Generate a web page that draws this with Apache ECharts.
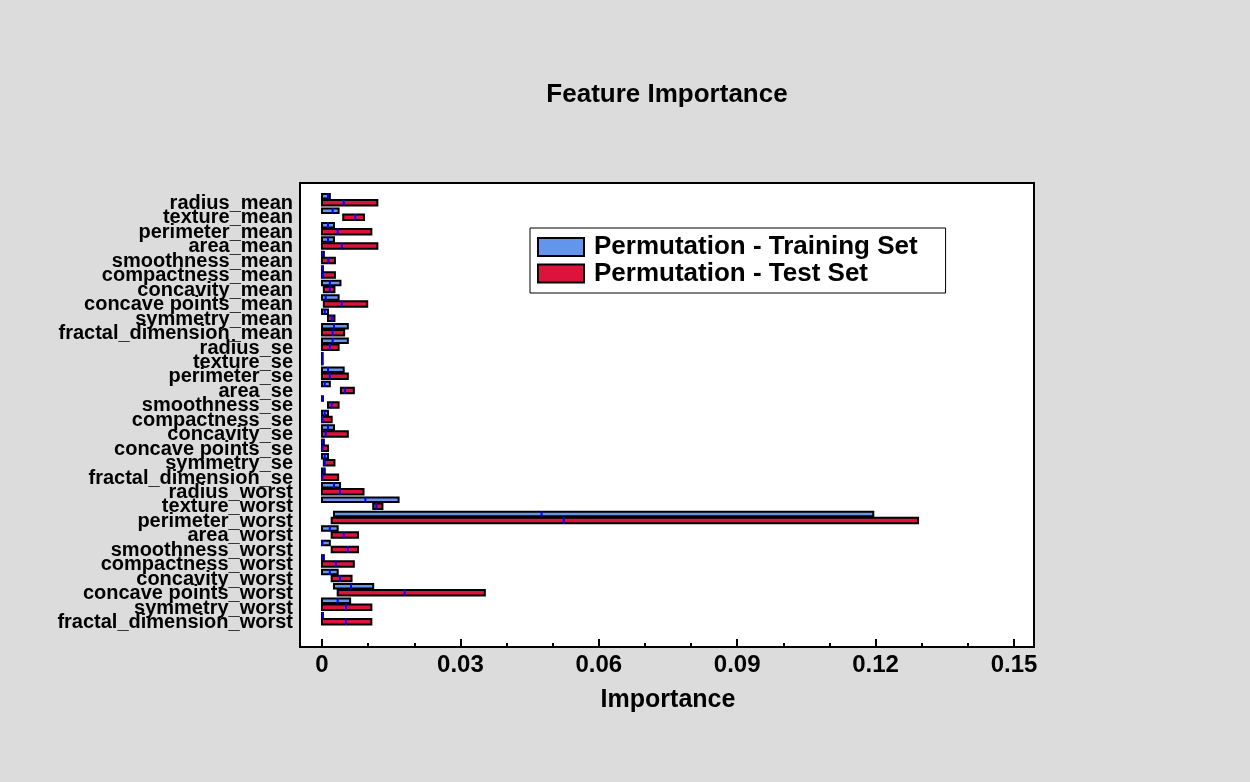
<!DOCTYPE html>
<html><head><meta charset="utf-8">
<script src="https://cdn.jsdelivr.net/npm/echarts@6/dist/echarts.min.js"></script>
<style>html,body{margin:0;padding:0;background:#dcdcdc}#c{width:1250px;height:782px}</style>
</head><body><div id="c"></div>
<script>
const categories = ["radius_mean","texture_mean","perimeter_mean","area_mean","smoothness_mean","compactness_mean","concavity_mean","concave points_mean","symmetry_mean","fractal_dimension_mean","radius_se","texture_se","perimeter_se","area_se","smoothness_se","compactness_se","concavity_se","concave points_se","symmetry_se","fractal_dimension_se","radius_worst","texture_worst","perimeter_worst","area_worst","smoothness_worst","compactness_worst","concavity_worst","concave points_worst","symmetry_worst","fractal_dimension_worst"];
const trainLow  = [0,0,0,0,0,0,0,0,0,0,0,0,0,0,0,0,0,0,0,0,0,0,0.0026,0,0,0,0,0.0026,0,0];
const trainHigh = [0.0017,0.0036,0.0026,0.0026,0.0004,0.0002,0.0040,0.0036,0.0013,0.0056,0.0056,0.0001,0.0047,0.0017,0.0002,0.0013,0.0026,0.0004,0.0013,0.0006,0.0039,0.0166,0.1195,0.0034,0.0017,0.0004,0.0034,0.0111,0.0061,0.0002];
const trainMid  = [0.0013,0.0023,0.0013,0.0013,0.0001,0.0001,0.0017,0.0008,0.0006,0.0026,0.0023,0.0001,0.0013,0.0006,0.0001,0.0006,0.0013,0.0001,0.0006,0.0004,0.0026,0.0094,0.0476,0.0017,0.0001,0.0001,0.0017,0.0063,0.0034,0.0001];
const testLow   = [0,0.0046,0,0,0,0,0.0004,0.0004,0.0013,0,0,0,0,0.0041,0.0013,0,0,0,0.0004,0,0,0.0111,0.0021,0.0021,0.0021,0,0.0021,0.0034,0,0];
const testHigh  = [0.0120,0.0091,0.0107,0.0120,0.0028,0.0028,0.0027,0.0098,0.0027,0.0048,0.0036,0.0001,0.0056,0.0069,0.0036,0.0021,0.0056,0.0013,0.0027,0.0035,0.0090,0.0131,0.1292,0.0078,0.0078,0.0069,0.0064,0.0353,0.0107,0.0107];
const testMid   = [0.0047,0.0072,0.0034,0.0043,0.0014,0.0002,0.0017,0.0043,0.0021,0.0023,0.0017,0.0001,0.0017,0.0050,0.0021,0.0001,0.0008,0.0001,0.0006,0.0001,0.0039,0.0118,0.0524,0.0047,0.0056,0.0030,0.0039,0.0179,0.0052,0.0052];
const xTicks = { min: 0, max: 0.15, interval: 0.03 };
const seriesNames = ["Permutation - Training Set", "Permutation - Test Set"];

const FONT = "'Liberation Sans', Arial, sans-serif";
const chart = echarts.init(document.getElementById('c'), null, {renderer: 'canvas'});

function build(low, high, mid) {
  return categories.map((c, i) => [i, low[i], high[i], mid[i]]);
}
function makeRender(kind, color) {
  return function (params, api) {
    const ci = api.value(0);
    const p0 = api.coord([api.value(1), ci]);
    const p1 = api.coord([api.value(2), ci]);
    const pm = api.coord([api.value(3), ci]);
    const c = p0[1];
    const y0 = kind === 'train' ? c - 5.5 : c + 0.5;
    const h = kind === 'train' ? 4.5 : 5.5;
    return {
      type: 'group',
      children: [
        { type: 'rect', shape: { x: p0[0], y: y0, width: Math.max(p1[0] - p0[0], 0.5), height: h },
          style: { fill: color, stroke: '#000', lineWidth: 2 } },
        { type: 'line', shape: { x1: pm[0], y1: y0 - 0.5, x2: pm[0], y2: y0 + h + 0.5 },
          style: { stroke: '#0000ff', lineWidth: 2 } }
      ]
    };
  };
}

const option = {
  backgroundColor: '#dcdcdc',
  animation: false,
  title: {
    text: 'Feature Importance', left: 667, top: 82, textAlign: 'center', padding: 0,
    textStyle: { fontFamily: FONT, fontWeight: 'bold', fontSize: 26, color: '#000' }
  },
  graphic: [{
    type: 'rect', z: -10, silent: true,
    shape: { x: 300, y: 183, width: 734, height: 464 },
    style: { fill: '#fff', stroke: '#000', lineWidth: 2 }
  }],
  legend: {
    data: seriesNames, orient: 'vertical', left: 530, top: 228,
    padding: [6, 28, 6.5, 7], itemWidth: 46, itemHeight: 18, itemGap: 0.5,
    backgroundColor: '#fff', borderColor: '#000', borderWidth: 1,
    icon: 'rect',
    textStyle: { fontFamily: FONT, fontWeight: 'bold', fontSize: 26, color: '#000', padding: [0, 0, 0, 5] }
  },
  grid: { left: 322, right: 236, top: 192.3, bottom: 156.3, containLabel: false },
  xAxis: {
    type: 'value', min: xTicks.min, max: xTicks.max, interval: xTicks.interval,
    offset: 21.3,
    axisLine: { show: false },
    axisTick: { show: true, inside: true, length: 8, lineStyle: { color: '#000', width: 2 } },
    minorTick: { show: true, splitNumber: 3, length: 4, lineStyle: { color: '#000', width: 2 } },
    splitLine: { show: false },
    axisLabel: { margin: 6, fontFamily: FONT, fontWeight: 'bold', fontSize: 24, color: '#000',
      formatter: v => v === 0 ? '0' : String(+v.toFixed(2)) },
    name: 'Importance', nameLocation: 'middle', nameGap: 41,
    nameTextStyle: { fontFamily: FONT, fontWeight: 'bold', fontSize: 25, color: '#000' }
  },
  yAxis: {
    type: 'category', data: categories, inverse: true,
    axisLine: { show: false }, axisTick: { show: false }, splitLine: { show: false },
    axisLabel: { margin: 29, interval: 0,
      formatter: v => '{a|' + v + '}',
      rich: { a: { fontFamily: FONT, fontWeight: 'bold', fontSize: 20, color: '#000', padding: [8, 0, 0, 0] } } }
  },
  series: [
    { name: seriesNames[0], type: 'custom', renderItem: makeRender('train', '#6495ED'),
      itemStyle: { color: '#6495ED', borderColor: '#000', borderWidth: 1 },
      encode: { x: [1, 2, 3], y: 0 }, data: build(trainLow, trainHigh, trainMid), clip: false },
    { name: seriesNames[1], type: 'custom', renderItem: makeRender('test', '#DC143C'),
      itemStyle: { color: '#DC143C', borderColor: '#000', borderWidth: 1 },
      encode: { x: [1, 2, 3], y: 0 }, data: build(testLow, testHigh, testMid), clip: false }
  ]
};
chart.setOption(option);
</script></body></html>
